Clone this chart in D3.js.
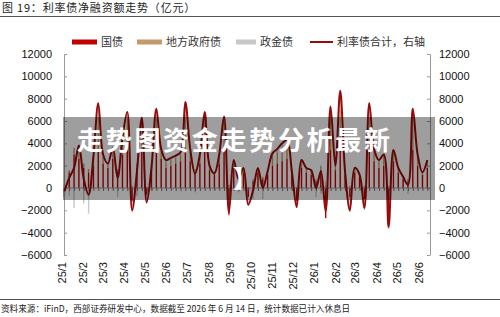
<!DOCTYPE html>
<html>
<head>
<meta charset="utf-8">
<script src="https://cdn.jsdelivr.net/npm/d3@7"></script>
<style>
  body { margin: 0; background: #fff; }
  svg { display: block; font-family: "Liberation Sans", Arial, sans-serif; }
  .cjk { font-family: "Noto Sans CJK SC", sans-serif; }
</style>
</head>
<body>
<svg id="chart" width="500" height="317"></svg>
<script>
// weekly net financing (亿元), week ending Sundays from 2025-01-05 to 2026-06-14
const firstWeek = new Date(2025, 0, 5);
const lastWeek = new Date(2026, 5, 14);

const monthLabels = ["25/1","25/2","25/3","25/4","25/5","25/6","25/7","25/8","25/9",
                     "25/10","25/11","25/12","26/1","26/2","26/3","26/4","26/5","26/6"];
const yTicks = [-6000, -4000, -2000, 0, 2000, 4000, 6000, 8000, 10000, 12000];

const seriesNames = ["国债", "地方政府债", "政金债"];
const lineName = "利率债合计，右轴";

// 国债
const treasury = [
  -800, 1400, 3000, 2600, 1800, 1400, 2000, 3400, 2200, 1800,
  2600, 1500, 3000, 3400, -1200, 1800, 3400, -600, 1600, 3400,
  2600, 1800, 2000, 2200, 2400, 3400, 2400, 1400, 2200, 3400,
  1600, 1200, 2200, 3400, -2400, 1800, 1000, 1400, -800, 600,
  1400, 800, 1200, 2000, 2200, 2400, 2600, 1400, -1200, 1800,
  1400, 1200, 600, 1600, -2700, 3400, 1600, 3400, 1200, -800,
  1400, 1000, -1000, 3400, 2400, 1800, 2000, -2200, 2400, 1400,
  800, 600, 3400, 2000, 1200, 1800
];
// 地方政府债
const localGov = [
  300, 200, 600, 900, 400, 300, 800, 3000, 600, 400,
  800, 200, 1200, 2800, 200, 400, 2400, 100, 400, 2800,
  700, 500, 500, 500, 600, 3200, 800, 300, 600, 2800,
  400, 300, 600, 2600, 300, 500, 200, 400, 100, 200,
  400, 200, 300, 900, 1000, 1100, 1200, 300, 100, 600,
  500, 400, 200, 400, 300, 2800, 500, 3600, 400, 200,
  400, 300, 200, 3000, 900, 700, 900, 200, 800, 400,
  300, 200, 2800, 800, 300, 600
];
// 政金债
const policyBank = [
  200, -700, -1800, 300, -1400, -2300, 0, 1200, 200, 0,
  200, -800, 300, 600, -1000, -700, 500, -800, -200, 900,
  200, 200, 200, 200, 200, 1100, 300, -400, 200, 600,
  0, -200, 200, 400, -100, 200, -400, 0, -800, -1000,
  0, -1000, 0, 200, 300, 500, 500, -200, -600, 100,
  -100, 0, -800, -500, 300, 1100, -100, 1700, -100, -1400,
  0, -100, -1000, 1200, 200, 0, 100, -1500, 200, 0,
  -100, -500, 900, 200, -100, 100
];
// 利率债合计 (right axis)
const total = [
  -300, 900, 1800, 3800, 800, -600, 2800, 7600, 3000, 2200,
  3600, 900, 4500, 6800, -2000, 1500, 6300, -1300, 1800, 7100,
  3500, 2500, 2700, 2900, 3200, 7700, 3500, 1300, 3000, 6800,
  2000, 1300, 3000, 6400, -2200, 2500, 800, 1800, -1500, -200,
  1800, 0, 1500, 3100, 3500, 4000, 4300, 1500, -1700, 2500,
  1800, 1600, 0, 1500, -2100, 7300, 2000, 8700, 1500, -2000,
  1800, 1200, -1800, 7600, 3500, 2500, 3000, -3500, 3400, 1800,
  1000, 300, 7100, 3000, 1400, 2500
];

const colors = { "国债": "#C00000", "地方政府债": "#C49A6C", "政金债": "#C8C8C8" };
const lineColor = "#9A0A0A";

const weeks = d3.timeWeek.range(firstWeek, d3.timeDay.offset(lastWeek, 1));
const rows = weeks.map((d, i) => ({
  date: d, "国债": treasury[i], "地方政府债": localGov[i], "政金债": policyBank[i], total: total[i]
}));

const svg = d3.select("#chart");

const x = d3.scaleTime()
  .domain([new Date(2025, 0, 3), new Date(2026, 5, 15)])
  .range([63, 428]);
const yL = d3.scaleLinear().domain([-6000, 12000]).range([255, 54]);
const yR = d3.scaleLinear().domain([-6000, 12000]).range([255, 54]);

// title
svg.append("text").attr("class", "cjk")
  .attr("x", 2).attr("y", 12)
  .style("font-size", "11px").style("letter-spacing", "0.8px").attr("fill", "#222")
  .text("图 19：利率债净融资额走势（亿元）");
svg.append("line").attr("x1", 0).attr("x2", 500).attr("y1", 16.5).attr("y2", 16.5)
  .attr("stroke", "#555").attr("stroke-width", 1);

// legend
const legend = svg.append("g").attr("class", "cjk").style("font-size", "11px");
const legendItems = [
  { name: "国债", x: 72, w: 25 },
  { name: "地方政府债", x: 137, w: 25 },
  { name: "政金债", x: 236, w: 20 }
];
legendItems.forEach(it => {
  legend.append("rect").attr("x", it.x).attr("y", 39.5).attr("width", it.w).attr("height", 5)
    .attr("fill", colors[it.name]);
  legend.append("text").attr("x", it.x + it.w + 4).attr("y", 46).attr("fill", "#333").text(it.name);
});
legend.append("line").attr("x1", 310).attr("x2", 333).attr("y1", 42).attr("y2", 42)
  .attr("stroke", lineColor).attr("stroke-width", 2);
legend.append("text").attr("x", 337).attr("y", 46).attr("fill", "#333").text(lineName);

// stacked bars
const stack = d3.stack().keys(seriesNames).offset(d3.stackOffsetDiverging);
const stacked = stack(rows);
const barW = 1.4;
svg.append("g").selectAll("g")
  .data(stacked).join("g")
  .attr("fill", d => colors[d.key])
  .selectAll("rect")
  .data(d => d).join("rect")
  .attr("x", d => x(d.data.date) - barW / 2)
  .attr("y", d => yL(Math.max(d[0], d[1])))
  .attr("height", d => Math.abs(yL(d[0]) - yL(d[1])))
  .attr("width", barW);

// axes
const axisColor = "#9a9a9a";
const leftAxis = svg.append("g").attr("transform", "translate(64,0)")
  .call(d3.axisLeft(yL).tickValues(yTicks).tickFormat(d3.format("d"))
    .tickSizeInner(-3).tickSizeOuter(0).tickPadding(12));
const rightAxis = svg.append("g").attr("transform", "translate(430,0)")
  .call(d3.axisRight(yR).tickValues(yTicks).tickFormat(d3.format("d"))
    .tickSizeInner(-3).tickSizeOuter(0).tickPadding(9));
[leftAxis, rightAxis].forEach(a => {
  a.selectAll("path, line").attr("stroke", axisColor);
  a.selectAll("text").style("font-size", "11px").attr("fill", "#111")
    .style("font-family", "'Liberation Sans', Arial, sans-serif");
});

// category axis along zero
const zeroAxis = svg.append("g").attr("transform", `translate(0,${yL(0)})`)
  .call(d3.axisBottom(x).tickValues(weeks).tickSize(3).tickFormat(""));
zeroAxis.select(".domain").attr("stroke", axisColor).attr("d", `M64,0H430`);
zeroAxis.selectAll("line").attr("stroke", "#8a6a6a");

// month labels at bottom
const monthDates = monthLabels.map(s => {
  const [yy, mm] = s.split("/").map(Number);
  return new Date(2000 + yy, mm - 1, 1);
});
const bottomAxis = svg.append("g").attr("transform", "translate(0,258)")
  .call(d3.axisBottom(x).tickValues(monthDates).tickSize(0)
    .tickFormat((d, i) => monthLabels[i]));
bottomAxis.select(".domain").remove();
bottomAxis.selectAll("text")
  .attr("transform", "rotate(-90)")
  .attr("x", -4).attr("y", 0).attr("dy", "0.35em")
  .style("text-anchor", "end")
  .style("font-size", "11px").attr("fill", "#111")
  .style("font-family", "'Liberation Sans', Arial, sans-serif");

// total line
const line = d3.line()
  .x(d => x(d.date))
  .y(d => yR(d.total))
  .curve(d3.curveCatmullRom.alpha(0.5));
svg.append("path").datum(rows)
  .attr("fill", "none").attr("stroke", lineColor).attr("stroke-width", 2)
  .attr("d", line);

// overlay band with caption
svg.append("rect").attr("x", 63).attr("y", 117).attr("width", 372).attr("height", 83)
  .attr("fill", "rgba(0,0,0,0.38)");
svg.append("text").attr("class", "cjk")
  .attr("x", 77).attr("y", 150)
  .style("font-size", "26px").style("font-weight", "bold").style("letter-spacing", "2.7px")
  .attr("fill", "#fff")
  .text("走势图资金走势分析最新");
svg.append("text").attr("class", "cjk")
  .attr("x", 233).attr("y", 187)
  .style("font-size", "24px").style("font-weight", "bold")
  .attr("fill", "#fff")
  .text("】");

// footer
svg.append("line").attr("x1", 0).attr("x2", 500).attr("y1", 299.5).attr("y2", 299.5)
  .attr("stroke", "#555").attr("stroke-width", 1);
svg.append("text").attr("class", "cjk")
  .attr("x", 1).attr("y", 312)
  .style("font-size", "8.6px").attr("fill", "#222")
  .text("资料来源：iFinD，西部证券研发中心，数据截至 2026 年 6 月 14 日，统计数据已计入休息日");
</script>
</body>
</html>
